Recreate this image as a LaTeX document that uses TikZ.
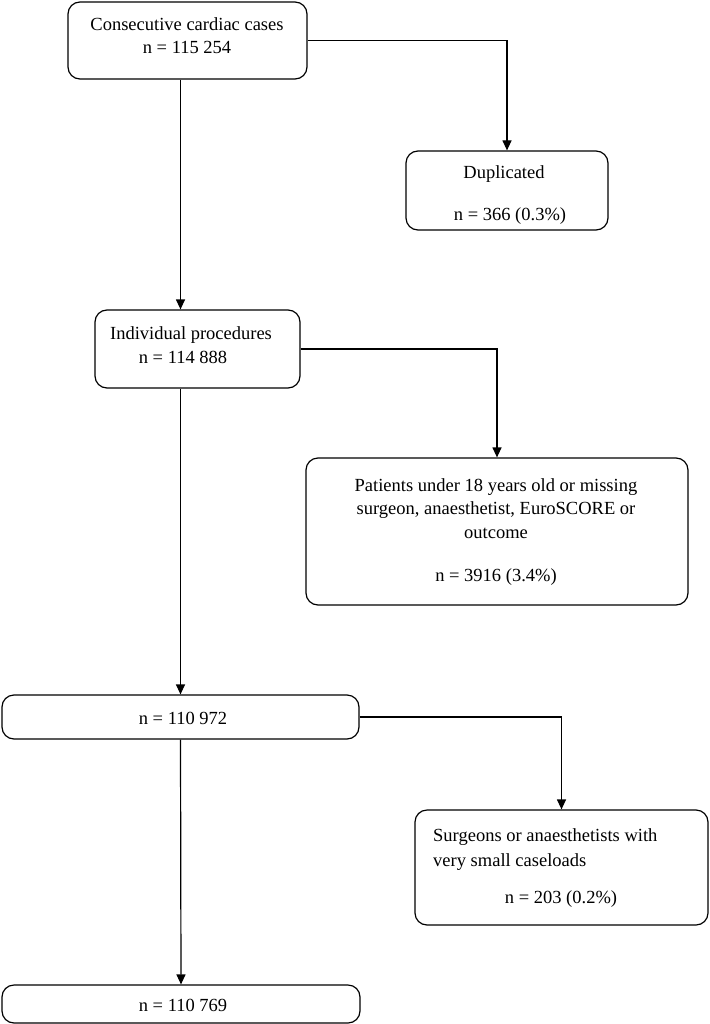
\documentclass[tikz,border=0pt]{standalone}
\usepackage{fontspec}
\setmainfont{Liberation Serif}
\usetikzlibrary{arrows.meta}
\begin{document}
\begin{tikzpicture}[x=1pt,y=-1pt,
  box/.style={draw, line width=1.2pt, rounded corners=12pt, inner sep=0pt},
  txt/.style={font=\fontsize{18.5}{23}\selectfont, inner sep=0pt, anchor=base},
  ltxt/.style={txt, anchor=base west},
  arr/.style={line width=1.2pt, -{Triangle[length=10pt,width=9pt]}}]
\useasboundingbox (0,0) rectangle (709,1024);
% boxes
\node[box, minimum width=239pt, minimum height=77pt] (b1) at (187.5,40.5) {};
\node[box, minimum width=202pt, minimum height=79pt] (b2) at (507,190.5) {};
\node[box, minimum width=205pt, minimum height=78pt] (b3) at (197.5,349) {};
\node[box, minimum width=382pt, minimum height=147pt] (b4) at (497,531.5) {};
\node[box, minimum width=357pt, minimum height=44pt] (b5) at (180.5,717) {};
\node[box, minimum width=293pt, minimum height=115pt] (b6) at (561.5,867.5) {};
\node[box, minimum width=358pt, minimum height=38pt] (b7) at (181,1004) {};
% texts
\node[txt] (t1a) at (187,31) {Consecutive cardiac cases};
\node[txt] (t1b) at (187,54) {n = 115 254};
\node[txt] (t2a) at (504,179) {Duplicated};
\node[txt] (t2b) at (510,221) {n = 366 (0.3\%)};
\node[txt] (t3a) at (191,339) {Individual procedures};
\node[txt] (t3b) at (183,363) {n = 114 888};
\node[txt] (t4a) at (496,491) {Patients under 18 years old or missing};
\node[txt] (t4b) at (496,514) {surgeon, anaesthetist, EuroSCORE or};
\node[txt] (t4c) at (496,538) {outcome};
\node[txt] (t4d) at (496,581) {n = 3916 (3.4\%)};
\node[txt] (t5) at (183,724) {n = 110 972};
\node[ltxt] (t6a) at (433,841) {Surgeons or anaesthetists with};
\node[ltxt] (t6b) at (433,866) {very small caseloads};
\node[txt] (t6c) at (561,903) {n = 203 (0.2\%)};
\node[txt] (t7) at (183,1011) {n = 110 769};
% connectors
\draw[arr] (b1.east) -| (b2.north);
\draw[arr] (b1.south -| b5.north) -- (b3.north -| b5.north);
\draw[arr] (b3.east) -| (b4.north);
\draw[arr] (b3.south -| b5.north) -- (b5.north);
\draw[arr] (b5.east) -| (b6.north);
\draw[arr] (b5.south) -- (b7.north);
\end{tikzpicture}
\end{document}
